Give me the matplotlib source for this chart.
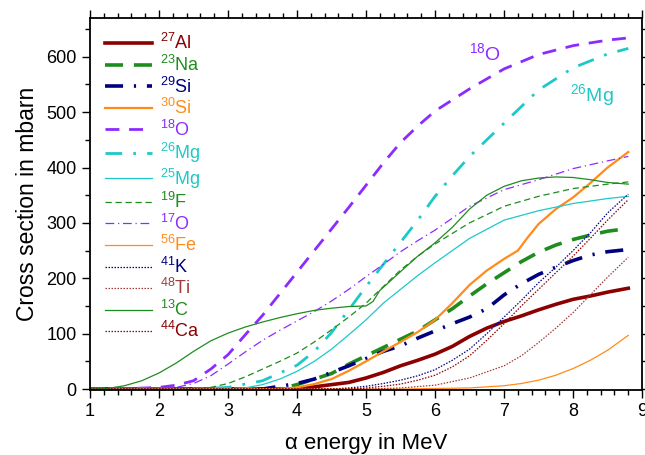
import numpy as np
import matplotlib
matplotlib.use("Agg")
import matplotlib.pyplot as plt
from matplotlib.ticker import MultipleLocator

plt.rcParams['font.family'] = ['Liberation Sans', 'DejaVu Sans']
plt.rcParams['mathtext.fontset'] = 'custom'
plt.rcParams['mathtext.rm'] = 'Liberation Sans'

###############################################################################
# DATA
###############################################################################

e_al = [1.0, 4.0, 4.25, 4.5, 4.75, 5.0, 5.25, 5.5, 5.75, 6.0, 6.25, 6.5, 6.75, 7.0, 7.25, 7.5, 7.75, 8.0, 8.25, 8.5, 8.8]
s_al = [0, 0, 4, 8, 12, 20, 30, 42, 52, 63, 77, 95, 110, 122, 132, 143, 153, 162, 168, 175, 182]

e_na = [1.0, 3.75, 4.0, 4.25, 4.5, 4.75, 5.0, 5.25, 5.5, 5.75, 6.0, 6.25, 6.5, 6.75, 7.0, 7.25, 7.5, 7.75, 8.0, 8.25, 8.5, 8.8]
s_na = [0, 0, 8, 18, 28, 45, 60, 75, 90, 105, 125, 145, 168, 190, 210, 230, 247, 260, 270, 278, 285, 290]

e_si29 = [1.0, 3.5, 3.75, 4.0, 4.25, 4.5, 4.75, 5.0, 5.25, 5.5, 5.75, 6.0, 6.25, 6.5, 6.75, 7.0, 7.25, 7.5, 7.75, 8.0, 8.25, 8.5, 8.8]
s_si29 = [0, 0, 5, 10, 18, 30, 42, 55, 68, 78, 92, 105, 118, 130, 145, 170, 190, 207, 220, 232, 242, 248, 252]

e_si30 = [1.0, 3.75, 4.0, 4.25, 4.5, 4.75, 5.0, 5.25, 5.5, 5.75, 6.0, 6.25, 6.5, 6.75, 7.0, 7.2, 7.35, 7.5, 7.75, 8.0, 8.25, 8.5, 8.8]
s_si30 = [0, 0, 3, 9, 18, 33, 50, 68, 85, 103, 125, 155, 188, 214, 235, 250, 275, 298, 325, 346, 372, 400, 428]

e_o18 = [1.0, 1.5, 2.0, 2.25, 2.5, 2.75, 3.0, 3.25, 3.5, 3.75, 4.0, 4.25, 4.5, 4.75, 5.0, 5.25, 5.5, 5.75, 6.0, 6.5, 7.0, 7.5, 8.0, 8.5, 8.8]
s_o18 = [0, 0.5, 3, 7, 15, 36, 62, 98, 133, 172, 211, 250, 289, 328, 368, 408, 445, 475, 502, 542, 578, 604, 620, 630, 634]

e_mg26 = [1.0, 2.5, 3.0, 3.5, 4.0, 4.25, 4.5, 4.75, 5.0, 5.25, 5.5, 5.75, 6.0, 6.25, 6.5, 6.75, 7.0, 7.5, 8.0, 8.5, 8.8]
s_mg26 = [0, 0, 3, 15, 43, 68, 102, 143, 185, 225, 265, 305, 348, 385, 420, 450, 480, 540, 580, 605, 615]

e_mg25 = [1.0, 3.0, 3.25, 3.5, 3.75, 4.0, 4.25, 4.5, 4.75, 5.0, 5.25, 5.5, 5.75, 6.0, 6.25, 6.5, 7.0, 7.5, 8.0, 8.5, 8.8]
s_mg25 = [0, 0, 2, 8, 18, 32, 50, 72, 98, 125, 155, 180, 205, 228, 250, 272, 305, 322, 335, 344, 348]

e_f19 = [1.0, 2.5, 2.75, 3.0, 3.25, 3.5, 3.75, 4.0, 4.25, 4.5, 4.75, 5.0, 5.25, 5.5, 5.75, 6.0, 6.5, 7.0, 7.5, 8.0, 8.5, 8.8]
s_f19 = [0, 0, 3, 10, 22, 36, 50, 65, 85, 107, 130, 155, 185, 215, 240, 262, 300, 330, 348, 362, 370, 374]

e_o17 = [1.0, 2.0, 2.25, 2.5, 2.75, 3.0, 3.25, 3.5, 3.75, 4.0, 4.25, 4.5, 4.75, 5.0, 5.25, 5.5, 5.75, 6.0, 6.5, 7.0, 7.5, 8.0, 8.5, 8.8]
s_o17 = [0, 1, 3, 10, 24, 45, 67, 88, 106, 123, 140, 159, 180, 203, 225, 248, 268, 287, 330, 360, 378, 398, 412, 420]

e_fe56 = [1.0, 5.5, 6.0, 6.5, 7.0, 7.25, 7.5, 7.75, 8.0, 8.25, 8.5, 8.8]
s_fe56 = [0, 0, 1, 2, 6, 10, 16, 25, 37, 52, 70, 97]

e_k41 = [1.0, 4.5, 4.75, 5.0, 5.25, 5.5, 5.75, 6.0, 6.25, 6.5, 6.75, 7.0, 7.25, 7.5, 7.75, 8.0, 8.25, 8.5, 8.8]
s_k41 = [0, 0, 2, 5, 10, 16, 24, 35, 52, 72, 100, 130, 160, 192, 220, 250, 282, 318, 352]

e_ti48 = [1.0, 5.0, 5.5, 6.0, 6.5, 7.0, 7.25, 7.5, 7.75, 8.0, 8.25, 8.5, 8.8]
s_ti48 = [0, 0, 2, 7, 20, 42, 60, 84, 110, 138, 170, 202, 238]

e_c13 = [1.0, 1.25, 1.5, 1.75, 2.0, 2.25, 2.5, 2.75, 3.0, 3.25, 3.5, 3.75, 4.0, 4.25, 4.5, 4.75, 5.0, 5.1, 5.2, 5.5, 5.75, 6.0, 6.25, 6.5, 6.75, 7.0, 7.25, 7.5, 7.75, 8.0, 8.25, 8.5, 8.8]
s_c13 = [0, 1, 6, 15, 29, 47, 68, 87, 101, 112, 121, 129, 136, 142, 146, 149, 150, 158, 178, 212, 240, 264, 292, 325, 350, 366, 376, 381, 383, 382, 378, 373, 370]

e_ca44 = [1.0, 4.75, 5.0, 5.25, 5.5, 5.75, 6.0, 6.25, 6.5, 6.75, 7.0, 7.25, 7.5, 7.75, 8.0, 8.25, 8.5, 8.8]
s_ca44 = [0, 0, 2, 5, 9, 16, 25, 40, 60, 88, 118, 150, 180, 210, 240, 272, 305, 342]

###############################################################################
# STYLES
###############################################################################

dred = '#8b0000'
green = '#1e8c1e'
navy = '#000080'
orange = '#ff8c1a'
purple = '#8c2bff'
cyan = '#1ec8c8'

series = [
    (e_al, s_al, r'$^{27}$Al', dred, 2.6, '-'),
    (e_na, s_na, r'$^{23}$Na', green, 2.6, (0, (5, 3))),
    (e_si29, s_si29, r'$^{29}$Si', navy, 2.6, (0, (5, 3, 0.6, 3))),
    (e_si30, s_si30, r'$^{30}$Si', orange, 1.6, '-'),
    (e_o18, s_o18, r'$^{18}$O', purple, 2.0, (0, (5, 3.5))),
    (e_mg26, s_mg26, r'$^{26}$Mg', cyan, 2.0, (0, (6, 4, 1, 4))),
    (e_mg25, s_mg25, r'$^{25}$Mg', cyan, 0.9, '-'),
    (e_f19, s_f19, r'$^{19}$F', green, 0.9, (0, (5, 3))),
    (e_o17, s_o17, r'$^{17}$O', purple, 0.9, (0, (7, 3, 1, 3))),
    (e_fe56, s_fe56, r'$^{56}$Fe', orange, 0.9, '-'),
    (e_k41, s_k41, r'$^{41}$K', navy, 0.9, (0, (1.2, 1.2))),
    (e_ti48, s_ti48, r'$^{48}$Ti', '#a03c3c', 0.9, (0, (1.2, 1.2))),
    (e_c13, s_c13, r'$^{13}$C', green, 0.9, '-'),
    (e_ca44, s_ca44, r'$^{44}$Ca', dred, 0.9, (0, (1.2, 1.2))),
]

###############################################################################
# FIGURE
###############################################################################

fig = plt.figure(figsize=(6.45, 4.55), dpi=100)
ax = fig.add_axes([0.1395, 0.1425, 0.856, 0.818])

for e, s, lab, col, lw, ls in series:
    ax.plot(e, s, color=col, lw=lw, ls=ls, label=lab)

ax.set_xlim(1, 9)
ax.set_ylim(-2, 670)
ax.xaxis.set_major_locator(MultipleLocator(1))
ax.xaxis.set_minor_locator(MultipleLocator(0.2))
ax.yaxis.set_major_locator(MultipleLocator(100))
ax.yaxis.set_minor_locator(MultipleLocator(50))
ax.tick_params(which='both', direction='out', top=True, right=True, width=1.0, labelsize=13)
ax.tick_params(which='major', length=6)
ax.tick_params(which='minor', length=3.5)
for sp in ax.spines.values():
    sp.set_linewidth(1.3)

ax.set_xlabel('α energy in MeV', fontsize=16, labelpad=9)
ax.set_ylabel('Cross section in mbarn', fontsize=16.5, labelpad=5)

ax.text(6.72, 605, r'$^{18}$O', color=purple, fontsize=14, ha='center', va='center')
ax.text(8.27, 530, r'$^{26}$Mg', color=cyan, fontsize=14, ha='center', va='center')

leg = ax.legend(loc='upper left', frameon=False, fontsize=13, handlelength=2.6,
                handletextpad=0.45, labelspacing=0.08, borderaxespad=0.55,
                borderpad=0.3)
for txt, line in zip(leg.get_texts(), leg.get_lines()):
    txt.set_color(line.get_color())

fig.savefig('out.png', dpi=100)
